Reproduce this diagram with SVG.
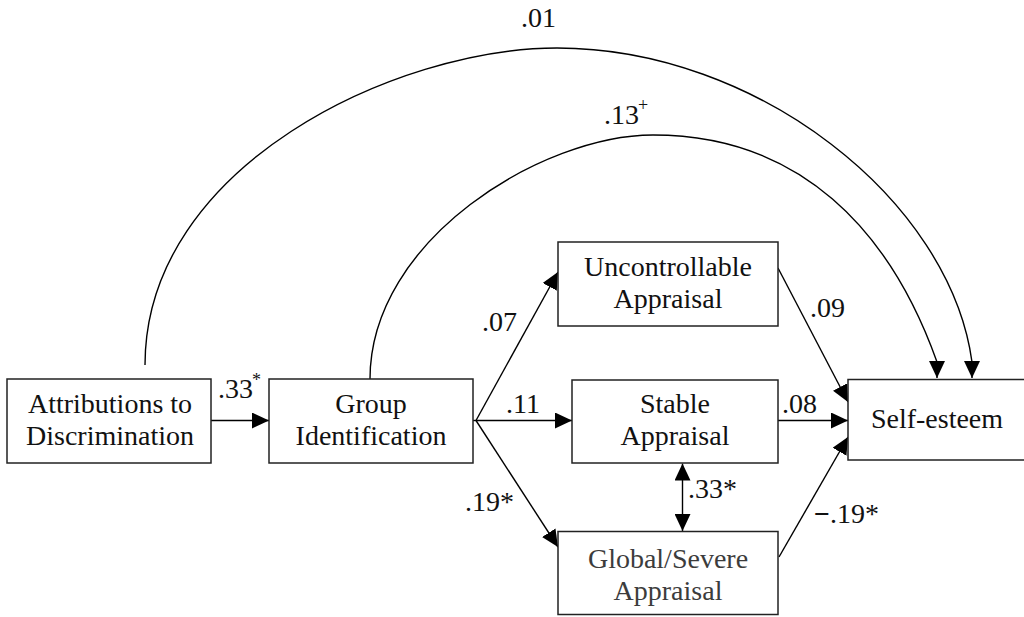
<svg xmlns="http://www.w3.org/2000/svg" width="1024" height="617" viewBox="0 0 1024 617">
<style>
.box{fill:#fff;stroke:#222;stroke-width:1.5}
.t{font-family:'Liberation Serif',Tinos,'Noto Serif','DejaVu Serif',FreeSerif,'Nimbus Roman','Nimbus Roman No9 L','Times New Roman',Times,serif;font-size:28px;fill:#111}
.tg{fill:#3c3c3c}
.c{fill:none;stroke:#000;stroke-width:1.4}
.sup{font-size:18px}
</style>
<defs>
<marker id="ah" viewBox="0 0 17 16" refX="17" refY="8" markerWidth="17" markerHeight="16" markerUnits="userSpaceOnUse" orient="auto"><path d="M0,0 L17,8 L0,16 z" fill="#000"/></marker>
<marker id="ahs" viewBox="0 0 17 16" refX="0" refY="8" markerWidth="17" markerHeight="16" markerUnits="userSpaceOnUse" orient="auto"><path d="M17,0 L0,8 L17,16 z" fill="#000"/></marker>
</defs>
<rect width="1024" height="617" fill="#fff"/>
<g id="connectors">
<path class="c" d="M145,365 C145,165 397,48 557,48 C757,48 950,200 972,362 L972,378" marker-end="url(#ah)"/>
<path class="c" d="M370,379 C370,239 543,135 653,135 C800,135 890,230 937,362 L937,378" marker-end="url(#ah)"/>
<path class="c" d="M211,420.5 L269,420.5" marker-end="url(#ah)"/>
<path class="c" d="M476,420.5 L558,272" marker-end="url(#ah)"/>
<path class="c" d="M476,420.5 L572,420.5" marker-end="url(#ah)"/>
<path class="c" d="M476,420.5 L558,547" marker-end="url(#ah)"/>
<path class="c" d="M473,420.5 L476,420.5"/>
<path class="c" d="M778,268 L848,402" marker-end="url(#ah)"/>
<path class="c" d="M778,420.5 L848,420.5" marker-end="url(#ah)"/>
<path class="c" d="M779,557 L848,437" marker-end="url(#ah)"/>
<path class="c" d="M682.5,463.5 L682.5,531" marker-start="url(#ahs)" marker-end="url(#ah)"/>
</g>
<g id="labels">
<text class="t" x="521" y="27">.01</text>
<text class="t" x="604" y="124">.13<tspan class="sup" dy="-13" dx="-1">+</tspan></text>
<text class="t" x="218" y="398">.33<tspan class="sup" dy="-12" dx="-1">*</tspan></text>
<text class="t" x="482" y="331">.07</text>
<text class="t" x="506" y="413">.11</text>
<text class="t" x="465" y="511">.19*</text>
<text class="t" x="810" y="317">.09</text>
<text class="t" x="782" y="413">.08</text>
<text class="t" x="688" y="498">.33*</text>
<text class="t" x="814" y="523"><tspan font-weight="bold">−</tspan>.19*</text>
</g>
<g id="attributions">
<rect class="box" x="7" y="379" width="204" height="84"/>
<text class="t" x="110" y="413" text-anchor="middle">Attributions to</text>
<text class="t" x="110" y="445" text-anchor="middle">Discrimination</text>
</g>
<g id="group-identification">
<rect class="box" x="269" y="379" width="204" height="84"/>
<text class="t" x="371" y="413" text-anchor="middle">Group</text>
<text class="t" x="371" y="445" text-anchor="middle">Identification</text>
</g>
<g id="uncontrollable">
<rect class="box" x="558" y="242" width="220" height="84"/>
<text class="t" x="668" y="275.5" text-anchor="middle">Uncontrollable</text>
<text class="t" x="668" y="307.5" text-anchor="middle">Appraisal</text>
</g>
<g id="stable">
<rect class="box" x="572" y="380" width="206" height="83"/>
<text class="t" x="675" y="413" text-anchor="middle">Stable</text>
<text class="t" x="675" y="445" text-anchor="middle">Appraisal</text>
</g>
<g id="global-severe">
<rect class="box" x="558" y="531.5" width="220" height="83"/>
<text class="t tg" x="668" y="567.5" text-anchor="middle">Global/Severe</text>
<text class="t tg" x="668" y="599.5" text-anchor="middle">Appraisal</text>
</g>
<g id="self-esteem">
<rect class="box" x="848" y="379.5" width="185" height="80.5"/>
<text class="t" x="937" y="428" text-anchor="middle">Self-esteem</text>
</g>
</svg>
